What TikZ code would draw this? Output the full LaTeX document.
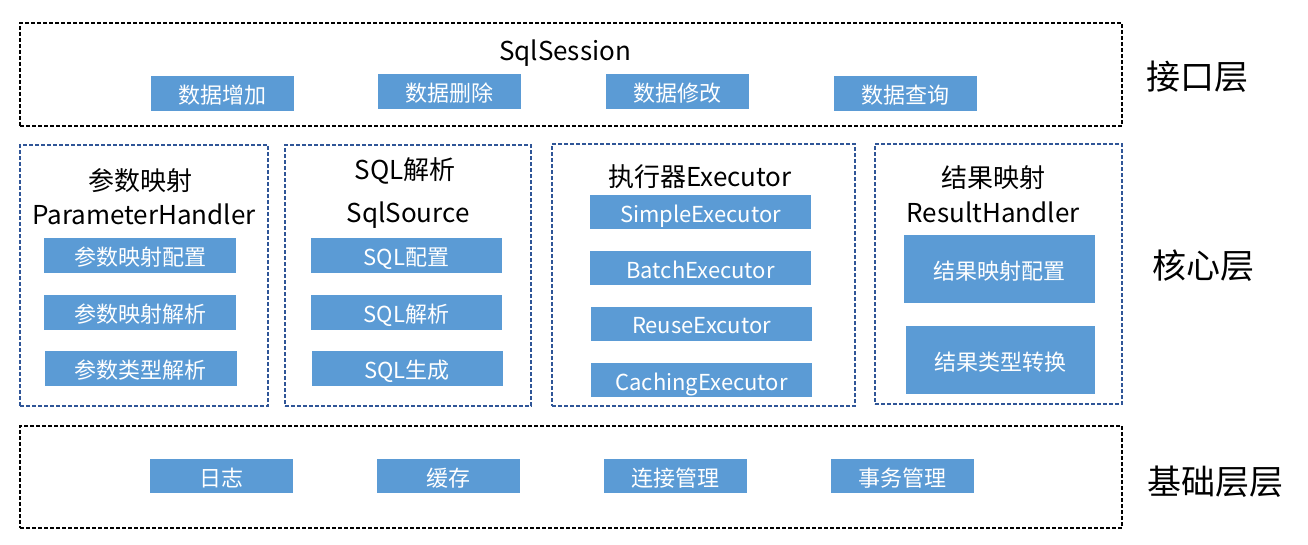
\documentclass[tikz,border=0pt]{standalone}
\usepackage{fontspec}
\setmainfont{Noto Sans CJK SC}
\usepackage{tikz}
\definecolor{itemblue}{HTML}{5B9BD5}
\definecolor{coreline}{HTML}{2F5597}

\begin{document}
\begin{tikzpicture}[x=1pt, y=-1pt]
    \tikzstyle{layer} = [rectangle, draw=black, line width=1.5pt, dash pattern=on 4pt off 2pt, inner sep=0pt]
    \tikzstyle{core} = [rectangle, draw=coreline, line width=1.5pt, dash pattern=on 4pt off 2pt, inner sep=0pt]
    \tikzstyle{item} = [rectangle, fill=itemblue, text=white, inner sep=0pt, minimum width=143, minimum height=35,
                        text height=22pt, text depth=1.5pt, font=\fontsize{22}{24}\selectfont]
    \tikzstyle{title} = [inner sep=0pt, font=\fontsize{26}{30}\selectfont]
    \tikzstyle{tier} = [inner sep=0pt, font=\fontsize{34}{38}\selectfont]

    \useasboundingbox (0,0) rectangle (1308,544);

    % Interface layer
    \node[layer, minimum width=1102, minimum height=103] (iface) at (571,74.5) {};
    \node[title] (session) at (565,53) {SqlSession};
    \foreach \x/\y/\n/\t in {222.5/93.5/add/数据增加, 449.5/91.5/del/数据删除,
                             677.5/91.5/upd/数据修改, 905.5/93.5/qry/数据查询} {
        \node[item] (\n) at (\x,\y) {\t};
    }

    % Core layer
    \node[core, minimum width=248, minimum height=261] (param) at (144,275.5) {};
    \node[core, minimum width=246, minimum height=261] (sql) at (408,275.5) {};
    \node[core, minimum width=303, minimum height=262] (exec) at (703.5,275) {};
    \node[core, minimum width=247, minimum height=260] (result) at (998.5,274) {};

    \node[title] (paramcn) at (140,181) {参数映射};
    \node[title] (paramen) at (144,214) {ParameterHandler};
    \node[title] (sqlcn) at (405,171) {SQL解析};
    \node[title] (sqlen) at (408,215) {SqlSource};
    \node[title] (execcn) at (700,177) {执行器Executor};
    \node[title] (resultcn) at (993,178) {结果映射};
    \node[title] (resulten) at (993,212) {ResultHandler};

    \foreach \x/\y/\n/\t in {140/255.5/pcfg/参数映射配置, 140/312.5/pparse/参数映射解析,
                             140.5/368/ptype/参数类型解析} {
        \node[item, minimum width=192] (\n) at (\x,\y) {\t};
    }
    \foreach \x/\y/\n/\t in {406.5/255.5/scfg/SQL配置, 406.5/312.5/sparse/SQL解析,
                             407/368/sgen/SQL生成} {
        \node[item, minimum width=191] (\n) at (\x,\y) {\t};
    }
    \foreach \x/\y/\n/\t in {700.5/212/simple/SimpleExecutor, 700.5/268/batch/BatchExecutor,
                             701.5/323.5/reuse/ReuseExcutor, 701.5/380/caching/CachingExecutor} {
        \node[item, minimum width=221, minimum height=34] (\n) at (\x,\y) {\t};
    }
    \node[item, minimum width=191, minimum height=68] (rcfg) at (999.5,269) {结果映射配置};
    \node[item, minimum width=189, minimum height=68] (rconv) at (1000.5,360) {结果类型转换};

    % Base layer
    \node[layer, minimum width=1102, minimum height=102] (base) at (571,477) {};
    \foreach \x/\n/\t in {221.5/log/日志, 448.5/cache/缓存, 675.5/conn/连接管理, 902.5/trans/事务管理} {
        \node[item, minimum height=34] (\n) at (\x,476) {\t};
    }

    % Tier labels
    \node[tier] (tiface) at (1197,77) {接口层};
    \node[tier] (tcore) at (1203,266) {核心层};
    \node[tier] (tbase) at (1215,482) {基础层层};
\end{tikzpicture}
\end{document}
